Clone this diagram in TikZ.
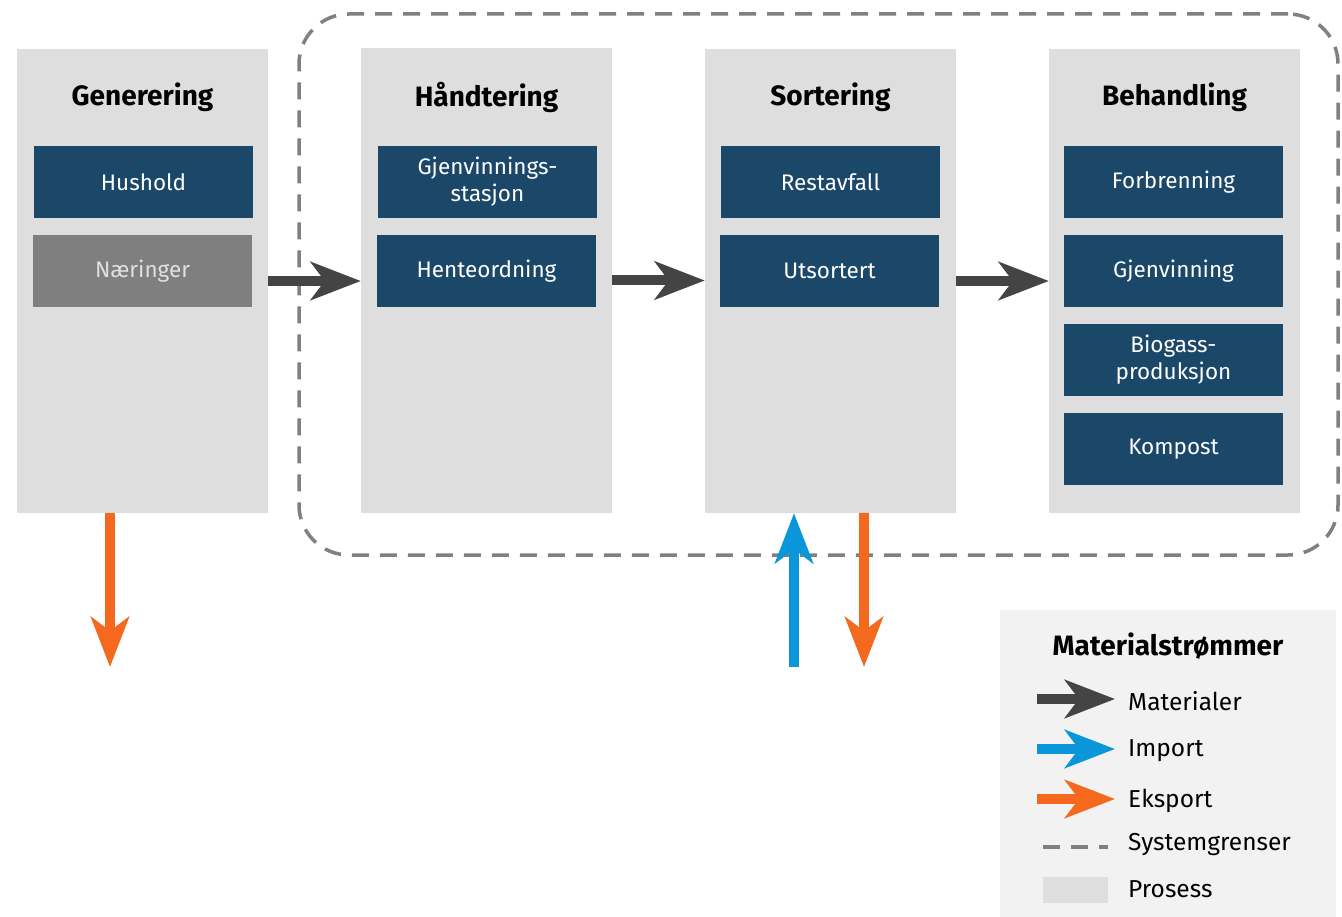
\documentclass[tikz,border=0pt]{standalone}
\usepackage{fontspec}
\setmainfont{Fira Sans}
\usetikzlibrary{arrows.meta,positioning}

\definecolor{prosessgra}{HTML}{DEDEDE}
\definecolor{morkbla}{HTML}{1B4769}
\definecolor{naeringgra}{HTML}{7F7F7F}
\definecolor{grensegra}{HTML}{808080}
\definecolor{matgra}{HTML}{444444}
\definecolor{impbla}{HTML}{0A97D9}
\definecolor{eksporansje}{HTML}{F5691F}
\definecolor{legendbg}{HTML}{F2F2F2}

\begin{document}
\begin{tikzpicture}[
    x=1pt, y=-1pt,
    prosess/.style={fill=prosessgra, minimum width=251pt, minimum height=464pt, inner sep=0pt},
    enhet/.style={fill=morkbla, text=white, minimum width=219pt, minimum height=72pt,
        inner sep=0pt, align=center, font=\fontsize{22.5}{27}\selectfont},
    tittel/.style={font=\fontsize{28}{32}\selectfont\bfseries, inner sep=0pt},
    lbl/.style={font=\fontsize{24.5}{29}\selectfont, inner sep=0pt, anchor=west},
    strom/.style={line width=10pt, -{Stealth[length=50pt, width=38pt, inset=14pt]}},
    mat/.style={strom, draw=matgra},
    imp/.style={strom, draw=impbla},
    eks/.style={strom, draw=eksporansje},
    grense/.style={draw=grensegra, line width=3.5pt, dash pattern=on 17pt off 11pt}
]
    \useasboundingbox (0,0) rectangle (1342,917);

    % systemgrense
    \node[grense, rounded corners=50pt, minimum width=1039pt, minimum height=541pt, inner sep=0pt]
        (system) at (818.5,284.5) {};

    % prosesser
    \node[prosess] (gen) at (142.5,281) {};
    \node[prosess] (hand) at (486.5,280.5) {};
    \node[prosess] (sort) at (830.5,281) {};
    \node[prosess] (beh) at (1174.5,281) {};

    \node[tittel] (genT) at (142.5,97) {Generering};
    \node[tittel] (handT) at (486.5,97) {Håndtering};
    \node[tittel] (sortT) at (830.5,97) {Sortering};
    \node[tittel] (behT) at (1174.5,97) {Behandling};

    \node[enhet] (hushold) at (143.5,182) {Hushold};
    \node[enhet, fill=naeringgra, text=white!88!black] (naering) at (142.5,271) {Næringer};
    \node[enhet] (gjstasjon) at (487.5,182) {Gjenvinnings-\\stasjon};
    \node[enhet] (hente) at (486.5,271) {Henteordning};
    \node[enhet] (rest) at (830.5,182) {Restavfall};
    \node[enhet] (utsort) at (829.5,271) {Utsortert};
    \node[enhet] (forbr) at (1173.5,182) {Forbrenning};
    \node[enhet] (gjenv) at (1173.5,271) {Gjenvinning};
    \node[enhet] (biogass) at (1173.5,360) {Biogass-\\produksjon};
    \node[enhet] (kompost) at (1173.5,449) {Kompost};

    % materialstrommer
    \draw[mat] (gen.east) -- (hand.west |- gen.east);
    \draw[mat] (hand.east) -- (sort.west |- hand.east);
    \draw[mat] (sort.east) -- (beh.west |- sort.east);

    \coordinate (eks1) at (110,667);
    \coordinate (eks2) at (864,667);
    \coordinate (imp1) at (794,667);
    \draw[eks] (gen.south -| eks1) -- (eks1);
    \draw[eks] (sort.south -| eks2) -- (eks2);
    \draw[imp] (imp1) -- (sort.south -| imp1);

    % forklaring
    \node[fill=legendbg, minimum width=336pt, minimum height=307pt, inner sep=0pt]
        (legend) at (1168,763.5) {};
    \node[tittel] (legendT) at (1168,646) {Materialstrømmer};
    \node[lbl] (lMat) at (1128,701) {Materialer};
    \node[lbl] (lImp) at (1128,751) {Import};
    \node[lbl] (lEks) at (1128,801) {Eksport};
    \node[lbl] (lGr) at (1128,845) {Systemgrenser};
    \node[lbl] (lPro) at (1128,889) {Prosess};

    \coordinate (a1) at (1037,699);
    \coordinate (a2) at (1037,749);
    \coordinate (a3) at (1037,799);
    \draw[mat] (a1) -- ([xshift=-13pt]lMat.west |- a1);
    \draw[imp] (a2) -- ([xshift=-13pt]lImp.west |- a2);
    \draw[eks] (a3) -- ([xshift=-13pt]lEks.west |- a3);
    \coordinate (g1) at (1043,847);
    \draw[grense, line width=4pt] (g1) -- ++(65,0);
    \node[fill=prosessgra, minimum width=65pt, minimum height=26pt, inner sep=0pt]
        (proSwatch) at (1075.5,890) {};
\end{tikzpicture}
\end{document}
